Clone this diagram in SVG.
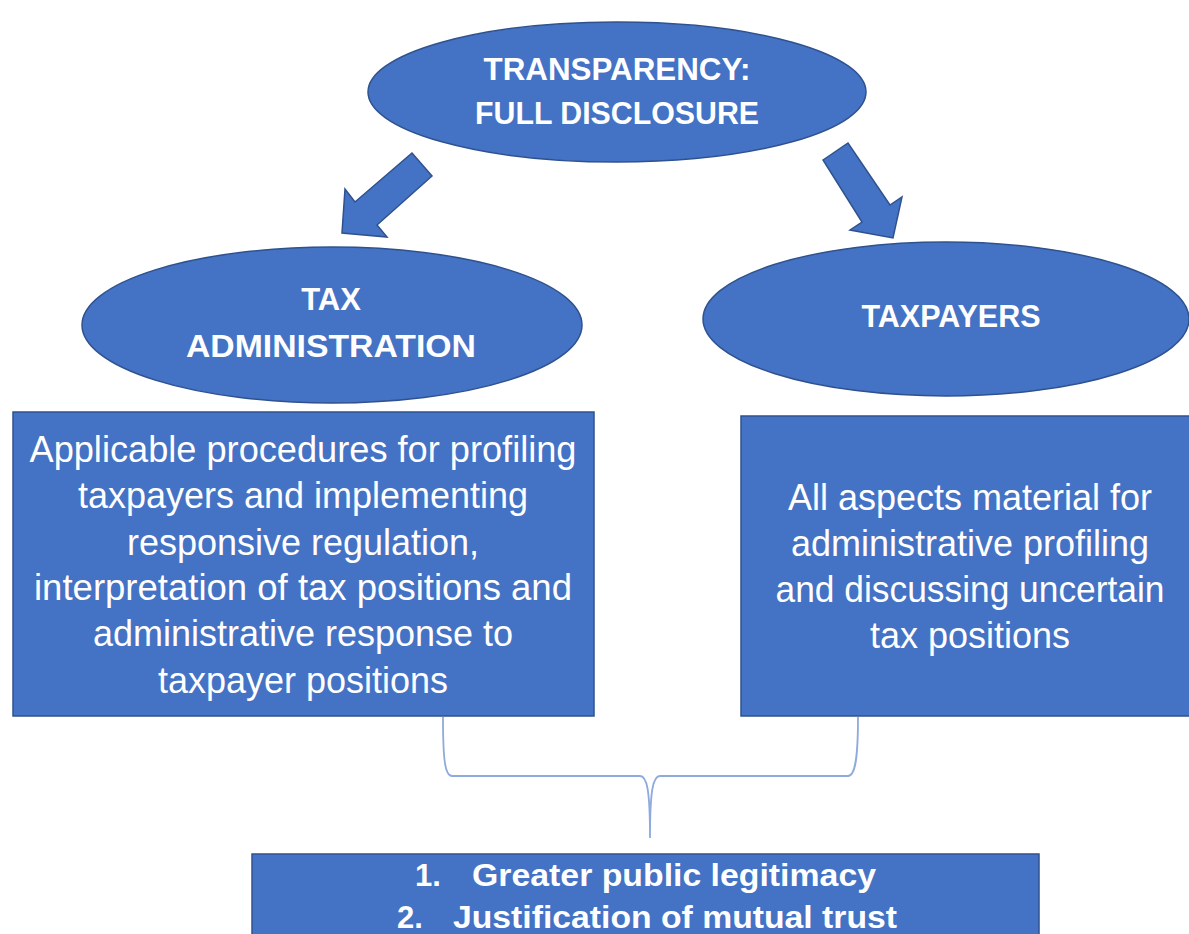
<svg xmlns="http://www.w3.org/2000/svg" width="1189" height="934" viewBox="0 0 1189 934">
<style>
.shape{fill:#4472c4;stroke:#2f528f;stroke-width:1.5}
.t{fill:#ffffff;font-family:"Liberation Sans",Arial,sans-serif;text-anchor:middle}
.b{font-weight:bold;font-size:31px}
.r{font-size:36px}
.brace{fill:none;stroke:#8faadc;stroke-width:1.8}
</style>
<rect width="1189" height="934" fill="#ffffff"/>
<g id="connectors">
<polygon class="shape" points="342,233 345,189 355,202 412,153 432,176 377,225 387,237"/>
<polygon class="shape" points="823,160 848,143 890,205 902,197 893,238 850,230 862,222"/>
<path class="brace" d="M443,717 C443,760 445,776 452,776 L640,776 C647,776 650,790 650,838 C650,790 653,776 660,776 L848,776 C855,776 858,760 858,717"/>
</g>
<g id="transparency">
<ellipse class="shape" cx="617" cy="92" rx="249" ry="70"/>
<text class="t b" x="617" y="80" textLength="267" lengthAdjust="spacingAndGlyphs">TRANSPARENCY:</text>
<text class="t b" x="617" y="124" textLength="284" lengthAdjust="spacingAndGlyphs">FULL DISCLOSURE</text>
</g>
<g id="tax-administration">
<ellipse class="shape" cx="332" cy="325" rx="250" ry="78"/>
<text class="t b" x="331" y="310">TAX</text>
<text class="t b" x="331" y="357" textLength="290" lengthAdjust="spacingAndGlyphs">ADMINISTRATION</text>
</g>
<g id="taxpayers">
<ellipse class="shape" cx="946" cy="319" rx="243" ry="77"/>
<text class="t b" x="951" y="327" textLength="179" lengthAdjust="spacingAndGlyphs">TAXPAYERS</text>
</g>
<g id="admin-box">
<rect class="shape" x="13" y="412" width="581" height="304"/>
<text class="t r" x="303" y="462" textLength="547" lengthAdjust="spacingAndGlyphs">Applicable procedures for profiling</text>
<text class="t r" x="303" y="508">taxpayers and implementing</text>
<text class="t r" x="303" y="555">responsive regulation,</text>
<text class="t r" x="303" y="600" textLength="538" lengthAdjust="spacingAndGlyphs">interpretation of tax positions and</text>
<text class="t r" x="303" y="646">administrative response to</text>
<text class="t r" x="303" y="693">taxpayer positions</text>
</g>
<g id="taxpayers-box">
<rect class="shape" x="741" y="416" width="450" height="300"/>
<text class="t r" x="970" y="510">All aspects material for</text>
<text class="t r" x="970" y="556">administrative profiling</text>
<text class="t r" x="970" y="602" textLength="389" lengthAdjust="spacingAndGlyphs">and discussing uncertain</text>
<text class="t r" x="970" y="648">tax positions</text>
</g>
<g id="outcomes">
<rect class="shape" x="252" y="854" width="787" height="90"/>
<text class="t b" x="428" y="886">1.</text>
<text class="t b" x="674" y="886" textLength="404" lengthAdjust="spacingAndGlyphs">Greater public legitimacy</text>
<text class="t b" x="410" y="928">2.</text>
<text class="t b" x="675" y="928" textLength="444" lengthAdjust="spacingAndGlyphs">Justification of mutual trust</text>
</g>
</svg>
